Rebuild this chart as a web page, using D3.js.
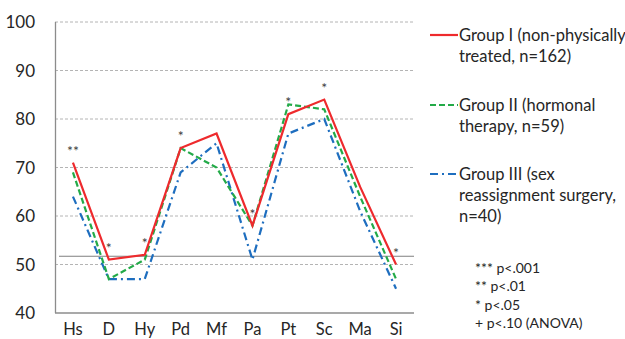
<!DOCTYPE html>
<html><head><meta charset="utf-8">
<script src="https://cdn.jsdelivr.net/npm/d3@7"></script>
<style>body{margin:0;background:#fff;} svg{display:block;font-family:Lato, "Open Sans", sans-serif;}</style>
</head><body>
<svg id="c" width="625" height="339"></svg>
<script>
const categories = ["Hs","D","Hy","Pd","Mf","Pa","Pt","Sc","Ma","Si"];
const group1 = [71,51,52,74,77,58,81,84,66,50];
const group2 = [69,47,51,74,70,58,83,82,64,47];
const group3 = [64,47,47,69,75,51,77,80,61,45];
const significance = ["**","*","*","*","","*","*","*","","*"];
const yTicks = [40,50,60,70,80,90,100];
const referenceValue = 51.7;
const seriesNames = [["Group I (non-physically","treated, n=162)"],["Group II (hormonal","therapy, n=59)"],["Group III (sex","reassignment surgery,","n=40)"]];
const notes = ["*** p<.001","** p<.01","* p<.05","+ p<.10 (ANOVA)"];

(function(){
const svg = d3.select("#c");
const mLeft = 55, mRight = 414, mTop = 22, mBottom = 313;
const x = d3.scaleBand().domain(categories).range([mLeft,mRight]);
const y = d3.scaleLinear().domain([40,100]).range([mBottom,mTop]);
const cx = d => x(d) + x.bandwidth()/2;
const txt = "#262626";

svg.append("g").selectAll("line").data(yTicks.filter(t=>t>40)).join("line")
  .attr("x1",mLeft).attr("x2",mRight).attr("y1",d=>y(d)).attr("y2",d=>y(d))
  .attr("stroke","#b4b4b4").attr("stroke-width",1).attr("stroke-dasharray","3,2");
svg.append("line").attr("x1",mLeft+0.5).attr("x2",mLeft+0.5).attr("y1",mTop).attr("y2",mBottom).attr("stroke","#8c8c8c").attr("stroke-width",1.3);
svg.append("line").attr("x1",mLeft).attr("x2",mRight).attr("y1",mBottom).attr("y2",mBottom).attr("stroke","#8c8c8c").attr("stroke-width",1.3);
svg.append("line").attr("x1",mLeft+4).attr("x2",mRight).attr("y1",y(referenceValue)).attr("y2",y(referenceValue)).attr("stroke","#7f7f7f").attr("stroke-width",1.2);

svg.append("g").selectAll("text").data(yTicks).join("text")
  .attr("x",35).attr("y",d=>y(d)+6).attr("text-anchor","end")
  .attr("font-size",17).attr("fill",txt).text(d=>d);
svg.append("g").selectAll("text").data(categories).join("text")
  .attr("x",d=>cx(d)).attr("y",335).attr("text-anchor","middle")
  .attr("font-size",16.5).attr("fill",txt).text(d=>d);

const series = [
  {vals:group1,color:"#ee2a2d",dash:null},
  {vals:group2,color:"#23aa48",dash:"6,3"},
  {vals:group3,color:"#1e6ebf",dash:"8,4,2,4"}
];
const line = d3.line().x((d,i)=>cx(categories[i])).y(d=>y(d));
[2,1,0].forEach(k=>{
  const s = series[k];
  svg.append("path").datum(s.vals).attr("d",line).attr("fill","none")
    .attr("stroke",s.color).attr("stroke-width",2.2)
    .attr("stroke-dasharray",s.dash);
});

svg.append("g").selectAll("text").data(categories).join("text")
  .attr("x",d=>cx(d)).attr("y",(d,i)=>y(group1[i])-7).attr("text-anchor","middle")
  .attr("font-size",14).attr("fill","#404040").text((d,i)=>significance[i]);

const legY = [35,105,174];
const lg = svg.append("g");
series.forEach((s,i)=>{
  lg.append("line").attr("x1",430).attr("x2",458).attr("y1",legY[i]).attr("y2",legY[i])
    .attr("stroke",s.color).attr("stroke-width",2.2).attr("stroke-dasharray",s.dash);
  seriesNames[i].forEach((t,j)=>{
    lg.append("text").attr("x",459).attr("y",legY[i]+6+j*21).attr("font-size",16.5).attr("fill",txt).text(t);
  });
});
svg.append("g").selectAll("text").data(notes).join("text")
  .attr("x",475).attr("y",(d,i)=>273+i*18.3).attr("font-size",14).attr("fill",txt).text(d=>d);
})();
</script>
</body></html>
